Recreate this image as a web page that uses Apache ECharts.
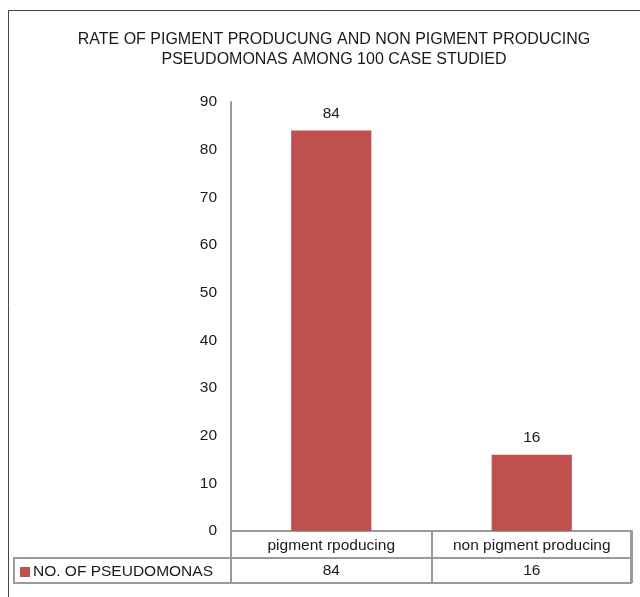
<!DOCTYPE html>
<html>
<head>
<meta charset="utf-8">
<script src="https://cdn.jsdelivr.net/npm/echarts@6/dist/echarts.min.js"></script>
<style>html,body{margin:0;padding:0;background:#fff;}#c{width:640px;height:597px;}</style>
</head>
<body>
<div id="c"></div>
<script>
const titleText = 'RATE OF PIGMENT PRODUCUNG AND NON PIGMENT PRODUCING\nPSEUDOMONAS AMONG 100 CASE STUDIED';
const categories = ['pigment rpoducing', 'non pigment producing'];
const seriesName = 'NO. OF PSEUDOMONAS';
const values = [84, 16];
const yTicks = [0, 10, 20, 30, 40, 50, 60, 70, 80, 90];

const FONT = 'Liberation Sans, Arial, sans-serif';
const FS = 15.5;
const TXT = '#1a1a1a';
const LINE = '#9a9a9a';
const chart = echarts.init(document.getElementById('c'), null, {renderer: 'canvas'});
chart.setOption({
  animation: false,
  backgroundColor: '#fff',
  textStyle: {fontFamily: FONT},
  title: {
    text: titleText, left: 329, textAlign: 'center', top: 25,
    textStyle: {fontSize: 16, fontWeight: 'normal', color: TXT, lineHeight: 20, fontFamily: FONT}
  },
  legend: {
    data: [seriesName], left: 20, top: 564, padding: 0, icon: 'rect', itemWidth: 10, itemHeight: 10, itemGap: 0,
    textStyle: {fontSize: FS, color: TXT, fontFamily: FONT, padding: [0, 0, 0, -2]}
  },
  grid: {left: 231, right: 8, top: 102, bottom: 66, containLabel: false},
  xAxis: [{
    type: 'category', data: categories, position: 'bottom',
    axisLine: {lineStyle: {color: LINE, width: 2}},
    axisTick: {show: true, interval: 0, alignWithLabel: false, length: 52, lineStyle: {color: LINE, width: 2}},
    axisLabel: {interval: 0, hideOverlap: false, fontSize: FS, color: TXT, margin: 7, fontFamily: FONT}
  }, {
    type: 'category', data: categories, position: 'bottom', offset: 27,
    axisLine: {show: false}, axisTick: {show: false},
    axisLabel: {interval: 0, hideOverlap: false, fontSize: FS, color: TXT, margin: 5, fontFamily: FONT,
      formatter: (v, i) => String(values[i])}
  }],
  yAxis: {
    type: 'value', min: yTicks[0], max: yTicks[yTicks.length - 1], interval: yTicks[1] - yTicks[0],
    axisLine: {show: true, lineStyle: {color: LINE, width: 2}},
    axisTick: {show: false},
    splitLine: {show: false},
    axisLabel: {fontSize: FS, color: TXT, margin: 14, fontFamily: FONT, padding: [3, 0, 0, 0]}
  },
  series: [{
    name: seriesName, type: 'bar', data: values, barWidth: '40%',
    itemStyle: {color: '#C0504D'},
    label: {show: true, position: 'top', distance: 9, fontSize: FS, color: TXT, fontFamily: FONT}
  }],
  graphic: [
    {type: 'rect', shape: {x: 8.5, y: 10.5, width: 700, height: 700}, style: {fill: 'none', stroke: '#444', lineWidth: 1}, silent: true},
    {type: 'line', shape: {x1: 13, y1: 558, x2: 632, y2: 558}, style: {stroke: LINE, lineWidth: 2}, silent: true},
    {type: 'line', shape: {x1: 13, y1: 583, x2: 632, y2: 583}, style: {stroke: LINE, lineWidth: 2}, silent: true},
    {type: 'line', shape: {x1: 14, y1: 557, x2: 14, y2: 584}, style: {stroke: LINE, lineWidth: 2}, silent: true},
    {type: 'line', shape: {x1: 631, y1: 530, x2: 631, y2: 584}, style: {stroke: LINE, lineWidth: 2}, silent: true}
  ]
});
</script>
</body>
</html>
